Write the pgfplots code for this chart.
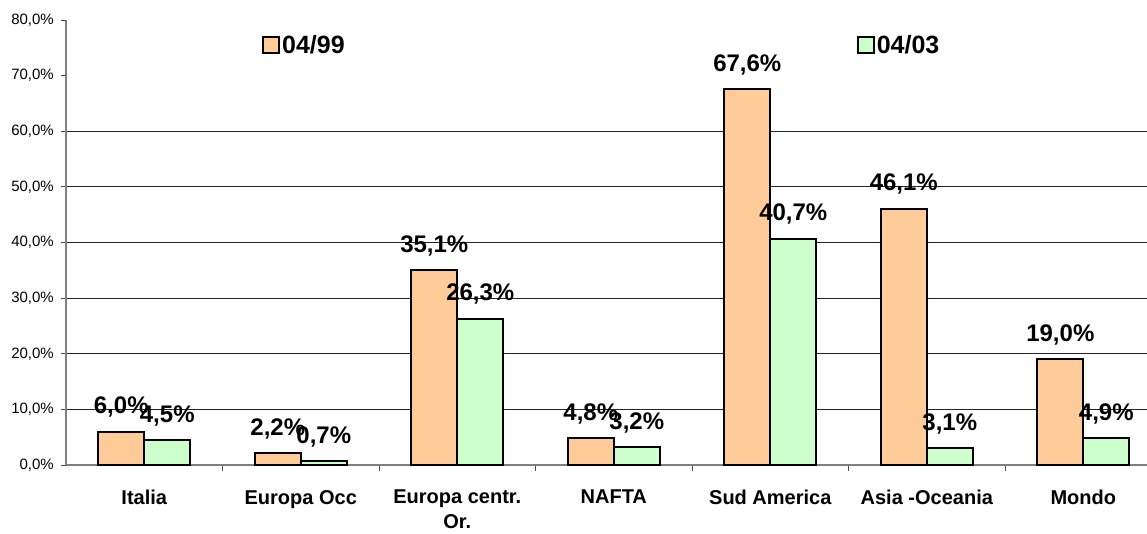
\documentclass[border=0pt]{standalone}
\usepackage{pgfplots}
\pgfplotsset{compat=1.18}
\usepackage{fontspec}
\setmainfont{Liberation Sans}
\definecolor{orangebar}{HTML}{FFCC99}
\definecolor{greenbar}{HTML}{CCFFCC}
\definecolor{axisgray}{HTML}{808080}
\begin{document}
\begin{tikzpicture}
\useasboundingbox (-66pt,-68pt) rectangle (1081pt,465pt);
\begin{axis}[
  anchor=south west, at={(0pt,0pt)},
  scale only axis, width=1081pt, height=445pt,
  xmin=-0.5, xmax=6.407, ymin=0, ymax=80,
  ybar=0pt, bar width=46pt,
  axis lines=left, axis line style={-, draw=axisgray, line width=1.5pt},
  ytick={0,10,...,60},
  extra y ticks={70,80},
  extra y tick style={grid=none},
  ymajorgrids, grid style={black!85, line width=1pt},
  xtick={0,...,6},
  xticklabels={Italia, Europa Occ, {Europa centr.\\Or.}, NAFTA, Sud America, Asia -Oceania, Mondo},
  x tick label style={font=\bfseries\fontsize{20}{25}\selectfont, align=center, inner sep=0pt, yshift=-20pt},
  major x tick style={draw=none},
  minor xtick={0.5,1.5,...,5.5},
  minor tick length=6pt,
  major tick length=5pt,
  tick align=outside,
  tick style={black!70, line width=1pt},
  y tick label style={font=\fontsize{15}{18}\selectfont, inner sep=0pt, xshift=-7pt},
  yticklabel={\pgfmathprintnumber{\tick}\%},
  /pgf/number format/.cd, fixed, fixed zerofill, precision=1, use comma, assume math mode=true,
  /pgfplots/.cd,
  nodes near coords={\pgfmathprintnumber{\pgfplotspointmeta}\%},
  every node near coord/.append style={font=\bfseries\fontsize{24}{28}\selectfont, inner sep=0pt, anchor=south, yshift=13pt, text=black},
  legend columns=2,
  legend style={draw=none, fill=none, inner sep=0pt, at={(0.1813,0.9438)}, anchor=west,
    font=\bfseries\fontsize{25}{30}\selectfont,
    /tikz/column 2/.style={column sep=510pt},
    nodes={inner sep=2pt}},
  legend image code/.code={\draw[#1, line width=2pt] (0pt,-8pt) rectangle (16pt,8pt);},
]
\addplot[draw=black, line width=2pt, fill=orangebar] coordinates {(0,6.0) (1,2.2) (2,35.1) (3,4.8) (4,67.6) (5,46.1) (6,19.0)};
\addplot[draw=black, line width=2pt, fill=greenbar] coordinates {(0,4.5) (1,0.7) (2,26.3) (3,3.2) (4,40.7) (5,3.1) (6,4.9)};
\legend{04/99, 04/03}
\end{axis}
\end{tikzpicture}
\end{document}
